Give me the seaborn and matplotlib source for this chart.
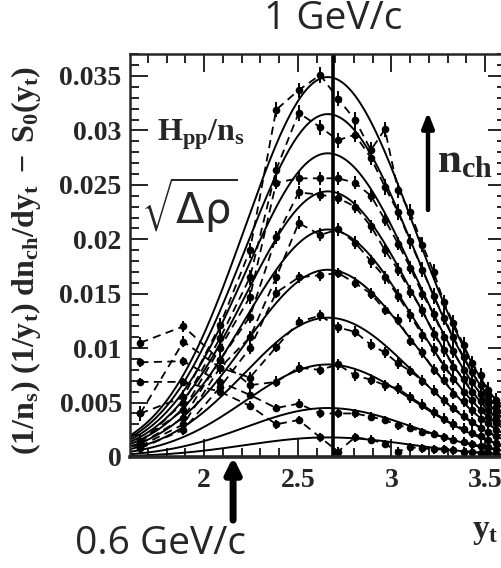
import numpy as np
import pandas as pd
import matplotlib
matplotlib.use("Agg")
import matplotlib.pyplot as plt
import seaborn as sns

# ---------------- data ----------------
yt_points = [1.66, 1.89, 2.085, 2.245, 2.385, 2.505, 2.62, 2.715, 2.805, 2.89, 2.965,
             3.035, 3.10, 3.165, 3.225, 3.28, 3.33, 3.385, 3.43, 3.475, 3.515, 3.56]

nch_1 = [0.0069, 0.0069, 0.0060, 0.0047, 0.0030, 0.0034, 0.0018, 0.0005, 0.0018, 0.0016, 0.0012,
         0.0005, 0.0009, 0.0008, 0.0007, 0.0007, 0.0006, 0.0005, 0.0005, 0.0004, 0.0004, 0.0003]
nch_2 = [0.0087, 0.0088, 0.0069, 0.0057, 0.0045, 0.0049, 0.0040, 0.0040, 0.0040, 0.0037, 0.0034,
         0.0029, 0.0027, 0.0023, 0.0021, 0.0018, 0.0016, 0.0014, 0.0012, 0.0010, 0.0009, 0.0007]
nch_3 = [0.0105, 0.0120, 0.0089, 0.0066, 0.0069, 0.0082, 0.0080, 0.0085, 0.0075, 0.0071, 0.0066,
         0.0063, 0.0055, 0.0048, 0.0041, 0.0035, 0.0030, 0.0026, 0.0022, 0.0019, 0.0016, 0.0013]
nch_4 = [0.0040, 0.0106, 0.0082, 0.0073, 0.0101, 0.0124, 0.0130, 0.0119, 0.0115, 0.0103, 0.0096,
         0.0086, 0.0079, 0.0070, 0.0061, 0.0052, 0.0045, 0.0038, 0.0032, 0.0027, 0.0023, 0.0019]
nch_5 = [0.0008, 0.0025, 0.0064, 0.0100, 0.0151, 0.0165, 0.0167, 0.0169, 0.0160, 0.0150, 0.0135,
         0.0126, 0.0107, 0.0096, 0.0080, 0.0071, 0.0058, 0.0051, 0.0043, 0.0035, 0.0031, 0.0025]
nch_6 = [0.0010, 0.0030, 0.0082, 0.0110, 0.0165, 0.0215, 0.0204, 0.0209, 0.0197, 0.0180, 0.0165,
         0.0148, 0.0130, 0.0112, 0.0099, 0.0083, 0.0072, 0.0060, 0.0052, 0.0043, 0.0037, 0.0031]
nch_7 = [0.0012, 0.0036, 0.0089, 0.0129, 0.0202, 0.0243, 0.0241, 0.0238, 0.0230, 0.0212, 0.0190,
         0.0172, 0.0152, 0.0135, 0.0113, 0.0098, 0.0083, 0.0072, 0.0060, 0.0051, 0.0043, 0.0036]
nch_8 = [0.0015, 0.0043, 0.0100, 0.0147, 0.0252, 0.0256, 0.0256, 0.0256, 0.0252, 0.0240, 0.0218,
         0.0196, 0.0174, 0.0150, 0.0131, 0.0110, 0.0097, 0.0080, 0.0069, 0.0058, 0.0050, 0.0041]
nch_9 = [0.0013, 0.0050, 0.0109, 0.0165, 0.0264, 0.0316, 0.0303, 0.0291, 0.0296, 0.0275, 0.0248,
         0.0225, 0.0198, 0.0172, 0.0148, 0.0128, 0.0110, 0.0092, 0.0078, 0.0066, 0.0056, 0.0046]
nch_10 = [0.0040, 0.0055, 0.0121, 0.0190, 0.0319, 0.0337, 0.0351, 0.0329, 0.0310, 0.0282, 0.0301,
          0.0245, 0.0225, 0.0195, 0.0170, 0.0142, 0.0123, 0.0103, 0.0086, 0.0075, 0.0062, 0.0052]

point_errors = [0.0004, 0.0004, 0.0005, 0.0005, 0.0005, 0.0006, 0.0006, 0.0006, 0.0007, 0.0007]

# model (solid curves): peak amplitudes, peak position and widths
model_amplitudes = [0.0018, 0.0045, 0.0085, 0.0128, 0.0172, 0.0209, 0.0244, 0.0279, 0.0315, 0.0349]
model_center = 2.66
model_sigma_left = 0.44
model_sigma_right = 0.46

yt_1gev = 2.69
yt_06gev = 2.155

x_ticks = [2, 2.5, 3, 3.5]
x_tick_labels = ["2", "2.5", "3", "3.5"]
y_ticks = [0, 0.005, 0.01, 0.015, 0.02, 0.025, 0.03, 0.035]
y_tick_labels = ["0", "0.005", "0.01", "0.015", "0.02", "0.025", "0.03", "0.035"]

# ---------------- style ----------------
sns.set_style("ticks")
plt.rcParams["font.family"] = ["Liberation Serif", "DejaVu Serif"]
plt.rcParams["mathtext.fontset"] = "custom"
plt.rcParams["mathtext.rm"] = "Liberation Serif"
plt.rcParams["mathtext.bf"] = "Liberation Serif:bold"
plt.rcParams["mathtext.it"] = "Liberation Serif:italic"

W, H = 502, 568
fig = plt.figure(figsize=(W / 100, H / 100), dpi=100)
ax = fig.add_axes([130 / W, 111 / H, 376 / W, 403 / H])

series = [nch_1, nch_2, nch_3, nch_4, nch_5, nch_6, nch_7, nch_8, nch_9, nch_10]

# solid model curves
grid = np.linspace(1.58, 3.65, 300)
for amp in model_amplitudes:
    sig = np.where(grid < model_center, model_sigma_left, model_sigma_right)
    curve = amp * np.exp(-0.5 * ((grid - model_center) / sig) ** 2)
    sns.lineplot(x=grid, y=curve, ax=ax, color="black", lw=1.4, estimator=None, sort=False)

# dashed data with points
for vals, err in zip(series, point_errors):
    df = pd.DataFrame({"yt": yt_points, "v": vals})
    sns.lineplot(data=df, x="yt", y="v", ax=ax, color="black", lw=1.3,
                 linestyle=(0, (4.5, 3)), estimator=None, sort=False,
                 marker="o", markersize=5.5, markeredgewidth=0, markerfacecolor="black")
    ax.errorbar(yt_points, vals, yerr=err, fmt="none", ecolor="black", elinewidth=1.4)

ax.axvline(yt_1gev, color="black", lw=2.6)

ax.set_xlim(1.605, 3.611)
ax.set_ylim(0, 0.03702)
ax.set_xticks(x_ticks)
ax.set_xticklabels(x_tick_labels)
ax.set_yticks(y_ticks)
ax.set_yticklabels(y_tick_labels)
ax.xaxis.set_minor_locator(matplotlib.ticker.MultipleLocator(0.1))
ax.yaxis.set_minor_locator(matplotlib.ticker.MultipleLocator(0.001))
ax.tick_params(which="both", direction="in", top=True, right=True, width=1.2, color="black")
ax.tick_params(which="major", length=13)
ax.tick_params(which="minor", length=6.5)
ax.tick_params(axis="x", which="major", pad=8)
ax.tick_params(axis="y", which="major", pad=6)
for lab in ax.get_xticklabels() + ax.get_yticklabels():
    lab.set_fontweight("bold")
    lab.set_fontsize(20)
for s in ["left", "top", "right"]:
    ax.spines[s].set_linewidth(1.8)
ax.spines["bottom"].set_linewidth(2.6)
ax.set_xlabel("")
ax.set_ylabel("")

# y label
fig.text(26 / W, 1 - 260 / H,
         r"$\mathbf{(1/n_s)\ (1/y_t)\ dn_{ch}/dy_t\ -\ S_0(y_t)}$",
         rotation=90, ha="center", va="center", fontsize=23)
# x label
fig.text(499 / W, 1 - 538 / H, r"$\mathbf{y_t}$", ha="right", va="baseline", fontsize=24)

# annotations inside
fig.text(157 / W, 1 - 140 / H, r"$\mathbf{H_{pp}/n_s}$", ha="left", va="baseline", fontsize=23)
fig.text(141 / W, 1 - 224 / H, r"$\sqrt{\mathrm{\Delta\rho}}$", ha="left", va="baseline",
         fontsize=30, math_fontfamily="dejavusans")
fig.text(437 / W, 1 - 172 / H, r"$\mathbf{n_{ch}}$", ha="left", va="baseline", fontsize=31)
ax.annotate("", xy=(428 / W, 1 - 112 / H), xytext=(428 / W, 1 - 210 / H),
            xycoords="figure fraction", textcoords="figure fraction",
            arrowprops=dict(arrowstyle="-|>,head_width=0.35,head_length=0.9",
                            color="black", lw=3.2, shrinkA=0, shrinkB=0))

# momentum markers
fig.text(333 / W, 1 - 19 / H, "1 GeV/c", ha="center", va="center", fontsize=28,
         family="Open Sans")
fig.text(161 / W, 1 - 544 / H, "0.6 GeV/c", ha="center", va="center", fontsize=28,
         family="Open Sans")
ax.annotate("", xy=(yt_06gev, 0), xytext=(yt_06gev, -0.0058),
            xycoords="data", textcoords="data", annotation_clip=False,
            arrowprops=dict(arrowstyle="-|>,head_width=0.45,head_length=0.9",
                            color="black", lw=5, shrinkA=0, shrinkB=0))

fig.savefig("out.png", dpi=100)
